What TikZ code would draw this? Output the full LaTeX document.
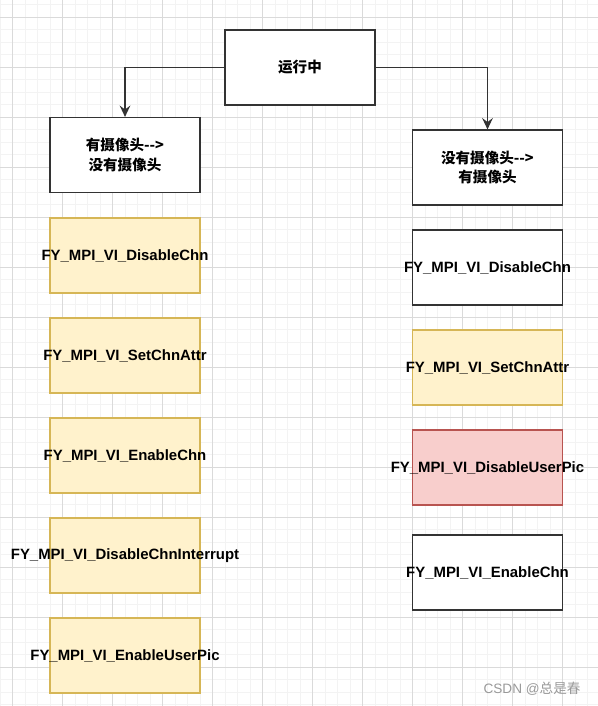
\documentclass[tikz,border=0pt]{standalone}
\usepackage{fontspec}
\setmainfont{Liberation Sans}
\newfontfamily\cjk{Noto Sans CJK SC}
\usepackage{tikz}
\usetikzlibrary{arrows.meta,positioning}
\definecolor{gridmajor}{HTML}{DADADA}
\definecolor{gridminor}{HTML}{F3F3F3}
\definecolor{darkline}{HTML}{333333}
\definecolor{yellowbg}{HTML}{FFF2CC}
\definecolor{yellowline}{HTML}{D6B656}
\definecolor{redbg}{HTML}{F8CECC}
\definecolor{redline}{HTML}{B85450}
% label that may stick out of its box
\newcommand{\fnname}[1]{\makebox[0pt]{#1}}
\tikzset{
  stepbox/.style={draw=darkline, fill=white, line width=0.9pt,
                  minimum width=112.5pt, minimum height=56.25pt,
                  inner sep=0pt, font=\fontsize{11.2}{13}\selectfont\bfseries,
                  align=center},
  callbox/.style={stepbox, fill=yellowbg, draw=yellowline},
  newbox/.style={stepbox, fill=redbg, draw=redline},
  headbox/.style={stepbox, font=\cjk\fontsize{10.9}{14.5}\selectfont\bfseries},
  flowarr/.style={-{Stealth[length=8.5pt,width=8pt,inset=3pt]}, line width=0.9pt, darkline}
}

\begin{document}
\begin{tikzpicture}[x=0.75pt, y=-0.75pt]
        \useasboundingbox (0,0) rectangle (598,706);
        \fill[white] (0,0) rectangle (598,706);

        % grid
        \foreach \x in {0,12.5,...,598}
          \draw[gridminor, line width=0.6pt] (\x,0) -- (\x,706);
        \foreach \y in {4.8,17.3,...,706}
          \draw[gridminor, line width=0.6pt] (0,\y) -- (598,\y);
        \foreach \x in {12.5,62.5,...,598}
          \draw[gridmajor, line width=0.6pt] (\x,0) -- (\x,706);
        \foreach \y in {17.3,67.3,...,706}
          \draw[gridmajor, line width=0.6pt] (0,\y) -- (598,\y);

        \node[headbox] (run) at (300,67.5) {运行中};

        \node[headbox] (lhead) at (125,155) {有摄像头-->\\没有摄像头};
        \node[headbox] (rhead) at (487.5,167.5) {没有摄像头-->\\有摄像头};

        \draw[flowarr] (run.west) -| (lhead.north);
        \draw[flowarr] (run.east) -| (rhead.north);

        % left column
        \node[callbox] (l1) at (125,255.5) {\fnname{FY\_MPI\_VI\_DisableChn}};
        \node[callbox] (l2) at (125,355.5) {\fnname{FY\_MPI\_VI\_SetChnAttr}};
        \node[callbox] (l3) at (125,455.5) {\fnname{FY\_MPI\_VI\_EnableChn}};
        \node[callbox] (l4) at (125,555.5) {\fnname{FY\_MPI\_VI\_DisableChnInterrupt}};
        \node[callbox] (l5) at (125,655.5) {\fnname{FY\_MPI\_VI\_EnableUserPic}};

        % right column
        \node[stepbox] (r1) at (487.5,267.5) {\fnname{FY\_MPI\_VI\_DisableChn}};
        \node[callbox] (r2) at (487.5,367.5) {\fnname{FY\_MPI\_VI\_SetChnAttr}};
        \node[newbox] (r3) at (487.5,467.5) {\fnname{FY\_MPI\_VI\_DisableUserPic}};
        \node[stepbox] (r4) at (487.5,572.5) {\fnname{FY\_MPI\_VI\_EnableChn}};

        \node[font=\fontsize{10.2}{12}\selectfont, text=black!40] (mark) at (532,689)
          {CSDN @{\cjk 总是春}};
      \end{tikzpicture}
\end{document}
